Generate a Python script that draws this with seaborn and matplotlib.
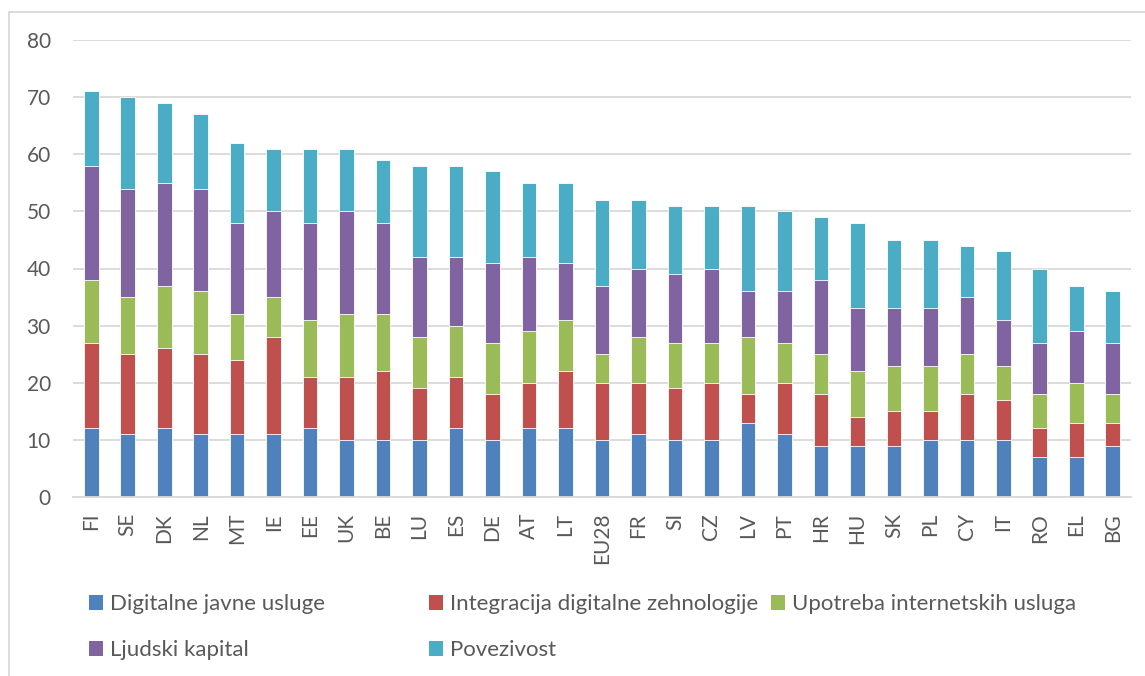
import numpy as np
import pandas as pd
import matplotlib
matplotlib.use("Agg")
import matplotlib.pyplot as plt
from matplotlib.patches import Patch
from matplotlib.lines import Line2D
import seaborn as sns

countries = ["FI", "SE", "DK", "NL", "MT", "IE", "EE", "UK", "BE", "LU", "ES", "DE", "AT", "LT",
             "EU28", "FR", "SI", "CZ", "LV", "PT", "HR", "HU", "SK", "PL", "CY", "IT", "RO", "EL", "BG"]
digitalne_javne_usluge = [12, 11, 12, 11, 11, 11, 12, 10, 10, 10, 12, 10, 12, 12,
                          10, 11, 10, 10, 13, 11, 9, 9, 9, 10, 10, 10, 7, 7, 9]
integracija_tehnologije = [15, 14, 14, 14, 13, 17, 9, 11, 12, 9, 9, 8, 8, 10,
                           10, 9, 9, 10, 5, 9, 9, 5, 6, 5, 8, 7, 5, 6, 4]
upotreba_interneta = [11, 10, 11, 11, 8, 7, 10, 11, 10, 9, 9, 9, 9, 9,
                      5, 8, 8, 7, 10, 7, 7, 8, 8, 8, 7, 6, 6, 7, 5]
ljudski_kapital = [20, 19, 18, 18, 16, 15, 17, 18, 16, 14, 12, 14, 13, 10,
                   12, 12, 12, 13, 8, 9, 13, 11, 10, 10, 10, 8, 9, 9, 9]
povezivost = [13, 16, 14, 13, 14, 11, 13, 11, 11, 16, 16, 16, 13, 14,
              15, 12, 12, 11, 15, 14, 11, 15, 12, 12, 9, 12, 13, 8, 9]

series_names = ["Digitalne javne usluge", "Integracija digitalne zehnologije",
                "Upotreba internetskih usluga", "Ljudski kapital", "Povezivost"]
series_values = [digitalne_javne_usluge, integracija_tehnologije, upotreba_interneta,
                 ljudski_kapital, povezivost]
colors = ["#4F81BD", "#C0504D", "#9BBB59", "#8064A2", "#4BACC6"]
yticks = [0, 10, 20, 30, 40, 50, 60, 70, 80]

sns.set_theme(style="white")
plt.rcParams["font.family"] = ["Lato", "DejaVu Sans"]
text_color = "#595959"
grid_color = "#D9D9D9"

cum = np.zeros(len(countries))
cums = []
for vals in series_values:
    cum = cum + np.array(vals)
    cums.append(cum.copy())

W, H, DPI = 1145, 676, 100
fig = plt.figure(figsize=(W / DPI, H / DPI), dpi=DPI)
ax = fig.add_axes([73 / W, 1 - 497 / H, (1131 - 73) / W, (497 - 40) / H])

# draw cumulative totals from top layer down so each visible segment is one series
for name, color, c in reversed(list(zip(series_names, colors, cums))):
    d = pd.DataFrame({"country": countries, "value": c})
    sns.barplot(data=d, x="country", y="value", color=color, width=0.4,
                edgecolor="#FFFFFF", linewidth=0.6, saturation=1, ax=ax, order=countries)

ax.set_ylim(0, 80)
ax.set_xlim(-0.5, len(countries) - 0.5)
ax.set_yticks(yticks)
ax.set_xlabel("")
ax.set_ylabel("")
ax.yaxis.grid(True, color=grid_color, linewidth=1.3)
ax.set_axisbelow(True)
for s in ["top", "right", "left"]:
    ax.spines[s].set_visible(False)
ax.spines["bottom"].set_color(grid_color)
ax.spines["bottom"].set_linewidth(1.3)
ax.tick_params(axis="y", length=0, pad=16, labelsize=15, labelcolor=text_color)
ax.tick_params(axis="x", length=0, pad=11.5, labelsize=15, labelcolor=text_color)
for lab in ax.get_xticklabels():
    lab.set_rotation(90)
    lab.set_va("top")
    lab.set_ha("center")

# legend: three column groups positioned like the original
groups = [[0, 3], [1, 4], [2]]
xpos = [89, 429, 771]
for g, xp in zip(groups, xpos):
    handles = [Patch(facecolor=colors[i], edgecolor="none") for i in g]
    labels = [series_names[i] for i in g]
    fig.legend(handles, labels, loc="upper left",
               bbox_to_anchor=(xp / W, 1 - 594 / H), frameon=False,
               fontsize=16, handlelength=0.65, handleheight=0.65,
               handletextpad=0.3, labelspacing=1.18, borderaxespad=0,
               borderpad=0, labelcolor=text_color)

# chart-area frame (top and left visible)
fig.add_artist(Line2D([8.5 / W, 8.5 / W], [0, 1 - 11.5 / H], transform=fig.transFigure,
                      color=grid_color, linewidth=1.3))
fig.add_artist(Line2D([8.5 / W, 1], [1 - 11.5 / H, 1 - 11.5 / H], transform=fig.transFigure,
                      color=grid_color, linewidth=1.3))

fig.savefig("out.png", dpi=DPI, facecolor="white")
